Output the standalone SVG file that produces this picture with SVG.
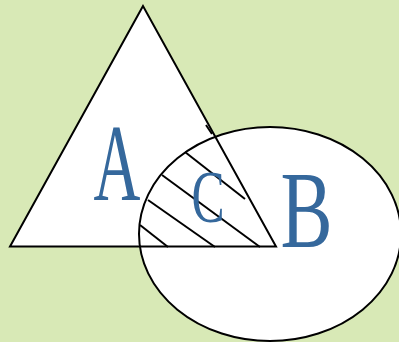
<svg xmlns="http://www.w3.org/2000/svg" width="399" height="342" viewBox="0 0 399 342">
<style>
.fill{fill:#ffffff;stroke:none}
.edge{fill:none;stroke:#000000;stroke-width:2}
.hatch{stroke:#000000;stroke-width:2;stroke-linecap:butt}
.lbl{font-family:"Liberation Serif","Times New Roman",serif;fill:#35689c;text-anchor:middle}
</style>
<rect width="399" height="342" fill="#d8e9b6"/>
<g id="triangle-A-fill"><polygon class="fill" points="143,6 10,246.5 276,246.5"/></g>
<g id="ellipse-B">
<ellipse class="fill" cx="270" cy="234" rx="131" ry="107"/>
<ellipse class="edge" cx="270" cy="234" rx="131" ry="107"/>
</g>
<g id="triangle-A">
<polygon class="edge" points="143,6 10,246.5 276,246.5" stroke-linejoin="miter"/>
<line class="hatch" x1="206" y1="125" x2="212" y2="134"/>
</g>
<g id="hatching">
<line class="hatch" x1="185" y1="152" x2="245" y2="199"/>
<line class="hatch" x1="162" y1="175" x2="260" y2="247"/>
<line class="hatch" x1="148" y1="200" x2="215" y2="247"/>
<line class="hatch" x1="140" y1="225" x2="168" y2="247"/>
</g>
<g id="label-A"><text class="lbl" font-size="110" transform="translate(117,200) scale(0.59,1)">A</text></g>
<g id="label-C"><text class="lbl" font-size="73" transform="translate(208,222) scale(0.68,1)">C</text></g>
<g id="label-B"><text class="lbl" font-size="110" transform="translate(306.5,247) scale(0.71,1)">B</text></g>
</svg>
